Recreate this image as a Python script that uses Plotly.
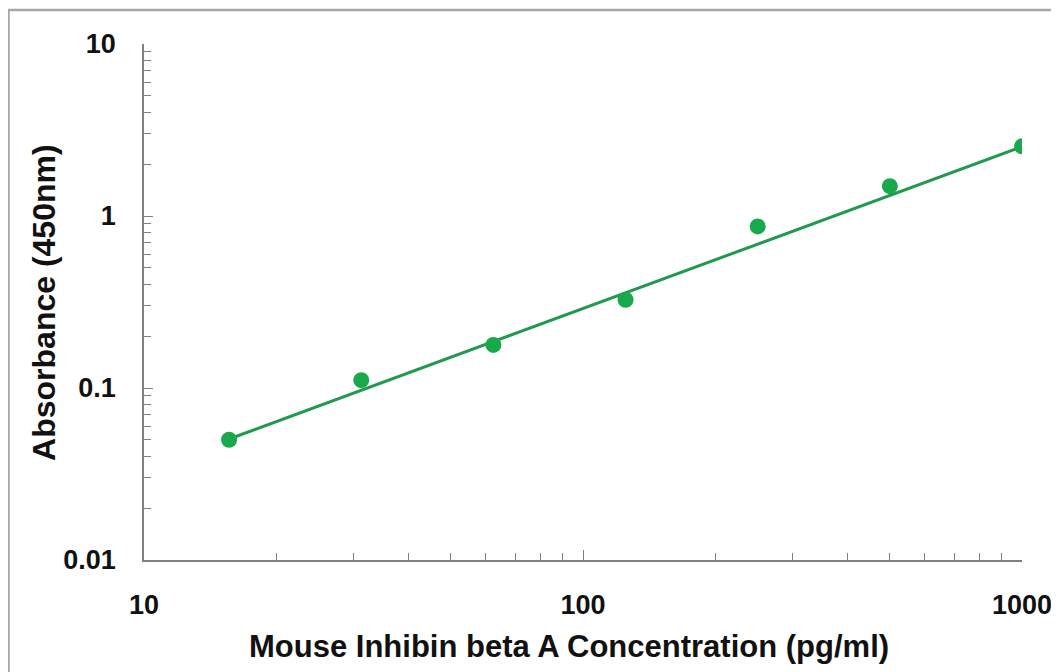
import plotly.graph_objects as go

# Data
conc = [15.625, 31.25, 62.5, 125, 250, 500, 1000]
absorb = [0.050, 0.111, 0.178, 0.326, 0.870, 1.49, 2.54]

# Trend line endpoints (straight in log-log space)
fit_x = [15.625, 1000]
fit_y = [0.0505, 2.53]

x_major = [10, 100, 1000]
x_major_text = ["10", "100", "1000"]
y_major = [0.01, 0.1, 1, 10]
y_major_text = ["0.01", "0.1", "1", "10"]

x_minor = [m * d for d in (10, 100) for m in range(2, 10)]
y_minor = [m * d for d in (0.01, 0.1, 1) for m in range(2, 10)]

x_title = "Mouse Inhibin beta A Concentration (pg/ml)"
y_title = "Absorbance (450nm)"

FONT = "Liberation Sans, Arial, sans-serif"
AXIS_COLOR = "#808080"

fig = go.Figure()
fig.add_trace(go.Scatter(
    x=fit_x, y=fit_y, mode="lines",
    line=dict(color="#21994e", width=3),
    hoverinfo="skip", showlegend=False,
))
fig.add_trace(go.Scatter(
    x=conc, y=absorb, mode="markers",
    marker=dict(color="#19a94c", size=16, line=dict(width=0)),
    showlegend=False,
))

fig.update_xaxes(
    type="log", range=[1, 3],
    showgrid=False, zeroline=False,
    showline=True, linecolor=AXIS_COLOR, linewidth=1.5,
    ticks="inside", ticklen=10, tickwidth=1.2, tickcolor=AXIS_COLOR,
    tickmode="array", tickvals=x_major, ticktext=x_major_text,
    tickfont=dict(family=FONT, size=27, color="#111111", weight="bold"),
    ticklabelstandoff=20,
    minor=dict(ticks="inside", ticklen=7, tickwidth=1.2, tickcolor=AXIS_COLOR,
               tickmode="array", tickvals=x_minor, showgrid=False),
)
fig.update_yaxes(
    type="log", range=[-2, 1],
    showgrid=False, zeroline=False,
    showline=True, linecolor=AXIS_COLOR, linewidth=1.5,
    ticks="inside", ticklen=9, tickwidth=1.2, tickcolor=AXIS_COLOR,
    tickmode="array", tickvals=y_major, ticktext=y_major_text,
    tickfont=dict(family=FONT, size=27, color="#111111", weight="bold"),
    ticklabelstandoff=21,
    minor=dict(ticks="inside", ticklen=7, tickwidth=1.2, tickcolor=AXIS_COLOR,
               tickmode="array", tickvals=y_minor, showgrid=False),
)

fig.add_annotation(
    text=x_title, xref="paper", yref="paper",
    x=0.484, y=-0.167, xanchor="center", yanchor="middle",
    showarrow=False,
    font=dict(family=FONT, size=31, color="#111111", weight="bold"),
)
fig.add_annotation(
    text=y_title, xref="paper", yref="paper",
    x=-0.114, y=0.5, xanchor="center", yanchor="middle",
    textangle=-90, showarrow=False,
    font=dict(family=FONT, size=32, color="#111111", weight="bold"),
)

# outer frame of the original picture
fig.add_shape(
    type="rect", xref="paper", yref="paper",
    x0=-0.1543, x1=1.5, y0=-1.0, y1=1.066,
    line=dict(color="#a8a8a8", width=2.5), fillcolor="rgba(0,0,0,0)",
    layer="below",
)

# the page body has an 8px margin, so the figure is sized to fill the window
fig.update_layout(
    width=1051, height=664,
    margin=dict(l=136, r=37, t=36, b=112, autoexpand=False),
    paper_bgcolor="white", plot_bgcolor="white",
    showlegend=False,
)

fig.write_html("out.html")
